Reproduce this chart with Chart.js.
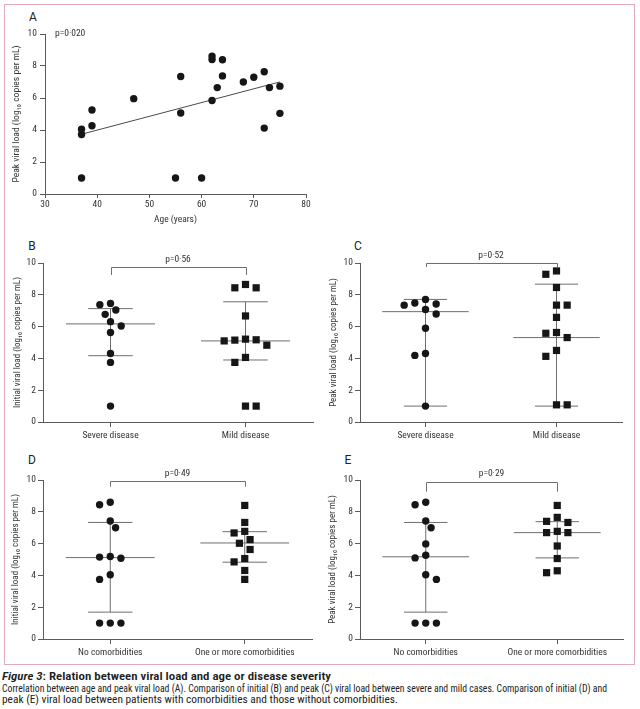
<!DOCTYPE html>
<html><head><meta charset="utf-8">
<script src="https://cdn.jsdelivr.net/npm/chart.js@4.4.1/dist/chart.umd.min.js"></script>
<style>
html,body{margin:0;padding:0;background:#fff;}
body{width:640px;height:709px;position:relative;overflow:hidden;font-family:'Roboto Condensed',Roboto,sans-serif;color:#222;}
.frame{position:absolute;left:4px;top:4px;width:631px;height:661px;border:1px solid #e2a9bb;box-sizing:border-box;}
.cv{position:absolute;}
.lbl{position:absolute;font-family:Roboto,sans-serif;font-size:12px;line-height:12px;color:#222;transform:translate(-50%,-50%);}
.cap{position:absolute;left:2px;font-size:10px;line-height:11px;white-space:nowrap;transform-origin:0 50%;color:#222;display:inline-block;}
</style></head><body>
<div class="frame"></div>
<div class="lbl" style="left:33px;top:17px">A</div>
<div class="lbl" style="left:32px;top:246px">B</div>
<div class="lbl" style="left:358px;top:246px">C</div>
<div class="lbl" style="left:32px;top:460px">D</div>
<div class="lbl" style="left:348px;top:460px">E</div>
<canvas id="cA" class="cv"></canvas>
<canvas id="cB" class="cv"></canvas>
<canvas id="cC" class="cv"></canvas>
<canvas id="cD" class="cv"></canvas>
<canvas id="cE" class="cv"></canvas>
<div id="cap1" class="cap" style="top:671px;font-weight:600"><i>Figure 3</i>: Relation between viral load and age or disease severity</div>
<div id="cap2" class="cap" style="top:683px">Correlation between age and peak viral load (A). Comparison of initial (B) and peak (C) viral load between severe and mild cases. Comparison of initial (D) and</div>
<div id="cap3" class="cap" style="top:694px">peak (E) viral load between patients with comorbidities and those without comorbidities.</div>
<script>
// ---------- DATA ----------
// Panel A: age vs peak viral load
const ageYears     = [37,37,37,39,39,47,55,56,56,60,62,62,62,63,64,64,68,70,72,72,73,75,75];
const agePeakLoad  = [4.05,3.72,1.0,5.25,4.27,5.96,1.0,7.34,5.06,1.0,8.62,8.41,5.84,6.65,8.39,7.38,7.0,7.3,7.64,4.12,6.65,6.74,5.04];
const agePValue    = 'p=0·020';
const ageTicks     = [30,40,50,60,70,80];

// Panel B: initial viral load, severe vs mild
const severityGroups  = ['Severe disease','Mild disease'];
const severeInitial   = [7.46,7.38,7.04,6.77,6.31,6.04,5.63,4.31,3.75,1.0];
const mildInitial     = [8.65,8.44,8.44,6.67,5.21,5.15,5.17,5.10,4.83,4.06,3.75,1.0,1.0];
const initialSevMedian = [6.17,5.10];
const initialSevLow    = [4.17,3.90];
const initialSevHigh   = [7.13,7.56];
const initialSevP      = 'p=0·56';

// Panel C: peak viral load, severe vs mild
const severePeak   = [7.71,7.48,7.42,7.35,7.08,6.79,5.90,4.31,4.19,1.0];
const mildPeak     = [9.50,9.29,8.46,7.35,7.35,6.58,5.63,5.58,5.31,4.50,4.13,1.08,1.08];
const peakSevMedian = [6.94,5.31];
const peakSevLow    = [1.0,1.0];
const peakSevHigh   = [7.71,8.67];
const peakSevP      = 'p=0·52';

// Panel D: initial viral load, comorbidities
const comorbidityGroups = ['No comorbidities','One or more comorbidities'];
const noComInitial  = [8.60,8.44,7.42,7.00,5.19,5.15,5.08,4.04,3.75,1.0,1.0,1.0];
const comInitial    = [8.40,7.33,6.77,6.67,6.25,6.02,5.63,5.06,4.85,4.31,3.75];
const initialComMedian = [5.12,6.04];
const initialComLow    = [1.69,4.83];
const initialComHigh   = [7.33,6.75];
const initialComP      = 'p=0·49';

// Panel E: peak viral load, comorbidities
const noComPeak  = [8.60,8.44,7.42,7.00,5.98,5.27,5.10,4.04,3.75,1.0,1.0,1.0];
const comPeak    = [8.40,7.65,7.40,7.33,6.77,6.69,6.69,5.85,5.06,4.29,4.17];
const peakComMedian = [5.17,6.69];
const peakComLow    = [1.69,5.10];
const peakComHigh   = [7.33,7.38];
const peakComP      = 'p=0·29';

// bracket heights (value units): bar level and end drop
const bracketLevel = {B:[9.72,9.25], C:[10.0,9.75], D:[9.96,9.58], E:[9.9,9.27]};

const yTicks = [0,2,4,6,8,10];

// ---------- STYLE ----------
const FONT = "'Roboto Condensed',Roboto,sans-serif";
const AXIS = '#5a5a5a';
const TXT  = '#333';
const DOT  = '#161616';
const LINE = '#6e6e6e';

function place(id, L, T, W, H){
  const c = document.getElementById(id);
  c.width = W; c.height = H;
  c.style.left = L+'px'; c.style.top = T+'px';
  c.style.width = W+'px'; c.style.height = H+'px';
  return c;
}

function yAxis(title, yw, pad, tsize){
  return {
    type:'linear', min:0, max:10,
    afterBuildTicks(s){ s.ticks = yTicks.map(v=>({value:v})); },
    ticks:{color:TXT, font:{family:FONT,size:9.5}, padding:pad},
    grid:{display:true, drawOnChartArea:false, drawTicks:true, tickLength:5, color:AXIS},
    border:{display:true, color:AXIS, width:1},
    title:{display:true, text:title, color:TXT, font:{family:FONT,size:tsize||9}, padding:{top:4,bottom:4}},
    afterFit(s){ s.width = yw; }
  };
}

// simple beeswarm: spreads points sideways in fixed steps when they would overlap
function swarm(values, pxPerVal, pxPerCat, stepPx, minDist){
  const placed = [];
  return values.map(v=>{
    const y = v*pxPerVal;
    const free = k => placed.every(p=>{
      const dx=(k-p.k)*stepPx, dy=y-p.y; return dx*dx+dy*dy >= minDist*minDist;});
    let chosen = 0;
    for(let n=0;n<40;n++){
      let cands;
      if(n===0) cands=[0];
      else {
        const left = placed.filter(p=>p.k<0).length, right = placed.filter(p=>p.k>0).length;
        cands = left<=right ? [-n,n] : [n,-n];
      }
      const hit = cands.find(free);
      if(hit!==undefined){ chosen=hit; break; }
    }
    placed.push({k:chosen,y});
    return chosen*stepPx/pxPerCat;
  });
}

function seg(x1,y1,x2,y2){
  return {type:'scatter', showLine:true, data:[{x:x1,y:y1},{x:x2,y:y2}],
    borderColor:LINE, borderWidth:1, pointRadius:0, fill:false, order:2};
}

function dotPanel(cfg){
  const {id,L,T,yw,pt,pr,plotW,plotH,xh,groups,vals,median,low,high,bracket,pText,yTitle,ypad} = cfg;
  const W = yw+plotW+pr, H = pt+plotH+xh;
  const c = place(id,L,T,W,H);
  const pxPerVal = plotH/10, pxPerCat = plotW/2;
  const datasets = [];
  for(let g=0; g<2; g++){
    datasets.push(seg(g-0.33,median[g],g+0.33,median[g]));
    datasets.push(seg(g-0.165,low[g],g+0.165,low[g]));
    datasets.push(seg(g-0.165,high[g],g+0.165,high[g]));
    datasets.push(seg(g,low[g],g,high[g]));
    const offs = swarm(vals[g], pxPerVal, pxPerCat, 5.33, 8.5);
    datasets.push({type:'scatter', data:vals[g].map((v,i)=>({x:g+offs[i], y:v})),
      pointStyle: g===0?'circle':'rect', pointRadius: g===0?3.7:5.1,
      backgroundColor:DOT, borderColor:DOT, borderWidth:0, order:1});
  }
  new Chart(c, {
    type:'scatter',
    data:{datasets},
    options:{
      responsive:false, animation:false, devicePixelRatio:1,
      layout:{padding:{top:pt,right:pr,left:0,bottom:0}},
      plugins:{legend:{display:false}, tooltip:{enabled:false}},
      scales:{
        x:{type:'linear', min:-0.5, max:1.5,
          afterBuildTicks(s){ s.ticks = groups.map((_,i)=>({value:i})); },
          ticks:{callback:v=>groups[v], autoSkip:false, maxRotation:0, color:TXT, font:{family:FONT,size:9.5}, padding:3},
          grid:{display:true, drawOnChartArea:false, drawTicks:true, tickLength:5, color:AXIS},
          border:{display:true, color:AXIS, width:1},
          afterFit(s){ s.height = xh; }
        },
        y:yAxis(yTitle, yw, ypad)
      }
    },
    plugins:[{id:'bracket', afterDraw(ch){
      const ctx=ch.ctx, xs=ch.scales.x, ys=ch.scales.y;
      const x0=xs.getPixelForValue(0), x1=xs.getPixelForValue(1);
      const yb=ys.getPixelForValue(bracket[0]), yd=ys.getPixelForValue(bracket[1]);
      ctx.save();
      ctx.strokeStyle=LINE; ctx.lineWidth=1;
      ctx.beginPath();
      ctx.moveTo(Math.round(x0)+0.5,yd); ctx.lineTo(Math.round(x0)+0.5,Math.round(yb)+0.5);
      ctx.lineTo(Math.round(x1)+0.5,Math.round(yb)+0.5); ctx.lineTo(Math.round(x1)+0.5,yd);
      ctx.stroke();
      ctx.fillStyle=TXT; ctx.font='9.5px '+FONT; ctx.textAlign='center'; ctx.textBaseline='middle';
      ctx.fillText(pText,(x0+x1)/2,yb-7.5);
      ctx.restore();
    }}]
  });
}

// ---------- Panel A ----------
(function(){
  const L=7,T=22,yw=38,pt=12,pr=12,plotW=261,plotH=160,xh=35;
  const c = place('cA',L,T,yw+plotW+pr,pt+plotH+xh);
  const n=ageYears.length;
  const mx=ageYears.reduce((a,b)=>a+b,0)/n, my=agePeakLoad.reduce((a,b)=>a+b,0)/n;
  let sxy=0,sxx=0;
  for(let i=0;i<n;i++){ sxy+=(ageYears[i]-mx)*(agePeakLoad[i]-my); sxx+=(ageYears[i]-mx)**2; }
  const slope=sxy/sxx, icpt=my-slope*mx;
  const xmin=Math.min(...ageYears), xmax=Math.max(...ageYears);
  new Chart(c,{
    type:'scatter',
    data:{datasets:[
      {type:'scatter', data:ageYears.map((a,i)=>({x:a,y:agePeakLoad[i]})), pointStyle:'circle', pointRadius:3.7,
        backgroundColor:DOT, borderColor:DOT, borderWidth:0, order:1},
      {type:'scatter', showLine:true, data:[{x:xmin,y:icpt+slope*xmin},{x:xmax,y:icpt+slope*xmax}],
        borderColor:'#4a4a4a', borderWidth:1, pointRadius:0, order:2}
    ]},
    options:{
      responsive:false, animation:false, devicePixelRatio:1,
      layout:{padding:{top:pt,right:pr,left:0,bottom:0}},
      plugins:{legend:{display:false}, tooltip:{enabled:false}},
      scales:{
        x:{type:'linear', min:30, max:80,
          afterBuildTicks(s){ s.ticks = ageTicks.map(v=>({value:v})); },
          ticks:{color:TXT, font:{family:FONT,size:9.5}, padding:1, maxRotation:0},
          grid:{display:true, drawOnChartArea:false, drawTicks:true, tickLength:4, color:AXIS},
          border:{display:true, color:AXIS, width:1},
          title:{display:true, text:'Age (years)', color:TXT, font:{family:FONT,size:9.5}, padding:{top:2,bottom:4}},
          afterFit(s){ s.height = xh; }
        },
        y:yAxis('Peak viral load (log₁₀ copies per mL)', yw, 3, 9.6)
      }
    },
    plugins:[{id:'pval', afterDraw(ch){
      const ctx=ch.ctx;
      ctx.save(); ctx.fillStyle=TXT; ctx.font='9.5px '+FONT; ctx.textAlign='left'; ctx.textBaseline='middle';
      ctx.fillText(agePValue, ch.chartArea.left+10, ch.scales.y.getPixelForValue(10));
      ctx.restore();
    }}]
  });
})();

// ---------- Panels B-E ----------
dotPanel({id:'cB',L:8,T:247,yw:35,pt:16,pr:8,plotW:270,plotH:159,xh:22,ypad:2,
  groups:severityGroups, vals:[severeInitial,mildInitial],
  median:initialSevMedian, low:initialSevLow, high:initialSevHigh,
  bracket:bracketLevel.B, pText:initialSevP, yTitle:'Initial viral load (log₁₀ copies per mL)'});
dotPanel({id:'cC',L:324,T:247,yw:36,pt:16,pr:8,plotW:262,plotH:159,xh:22,ypad:2,
  groups:severityGroups, vals:[severePeak,mildPeak],
  median:peakSevMedian, low:peakSevLow, high:peakSevHigh,
  bracket:bracketLevel.C, pText:peakSevP, yTitle:'Peak viral load (log₁₀ copies per mL)'});
dotPanel({id:'cD',L:6,T:463,yw:37,pt:17,pr:8,plotW:269,plotH:159,xh:22,ypad:2,
  groups:comorbidityGroups, vals:[noComInitial,comInitial],
  median:initialComMedian, low:initialComLow, high:initialComHigh,
  bracket:bracketLevel.D, pText:initialComP, yTitle:'Initial viral load (log₁₀ copies per mL)'});
dotPanel({id:'cE',L:323,T:463,yw:37,pt:17,pr:8,plotW:263,plotH:159,xh:22,ypad:2,
  groups:comorbidityGroups, vals:[noComPeak,comPeak],
  median:peakComMedian, low:peakComLow, high:peakComHigh,
  bracket:bracketLevel.E, pText:peakComP, yTitle:'Peak viral load (log₁₀ copies per mL)'});

// caption: fit each line to its measured width in the reference
[['cap1',329],['cap2',605],['cap3',396]].forEach(([id,w])=>{
  const el=document.getElementById(id);
  const nat=el.getBoundingClientRect().width;
  el.style.transform='scaleX('+(w/nat)+')';
});
</script>
</body></html>
